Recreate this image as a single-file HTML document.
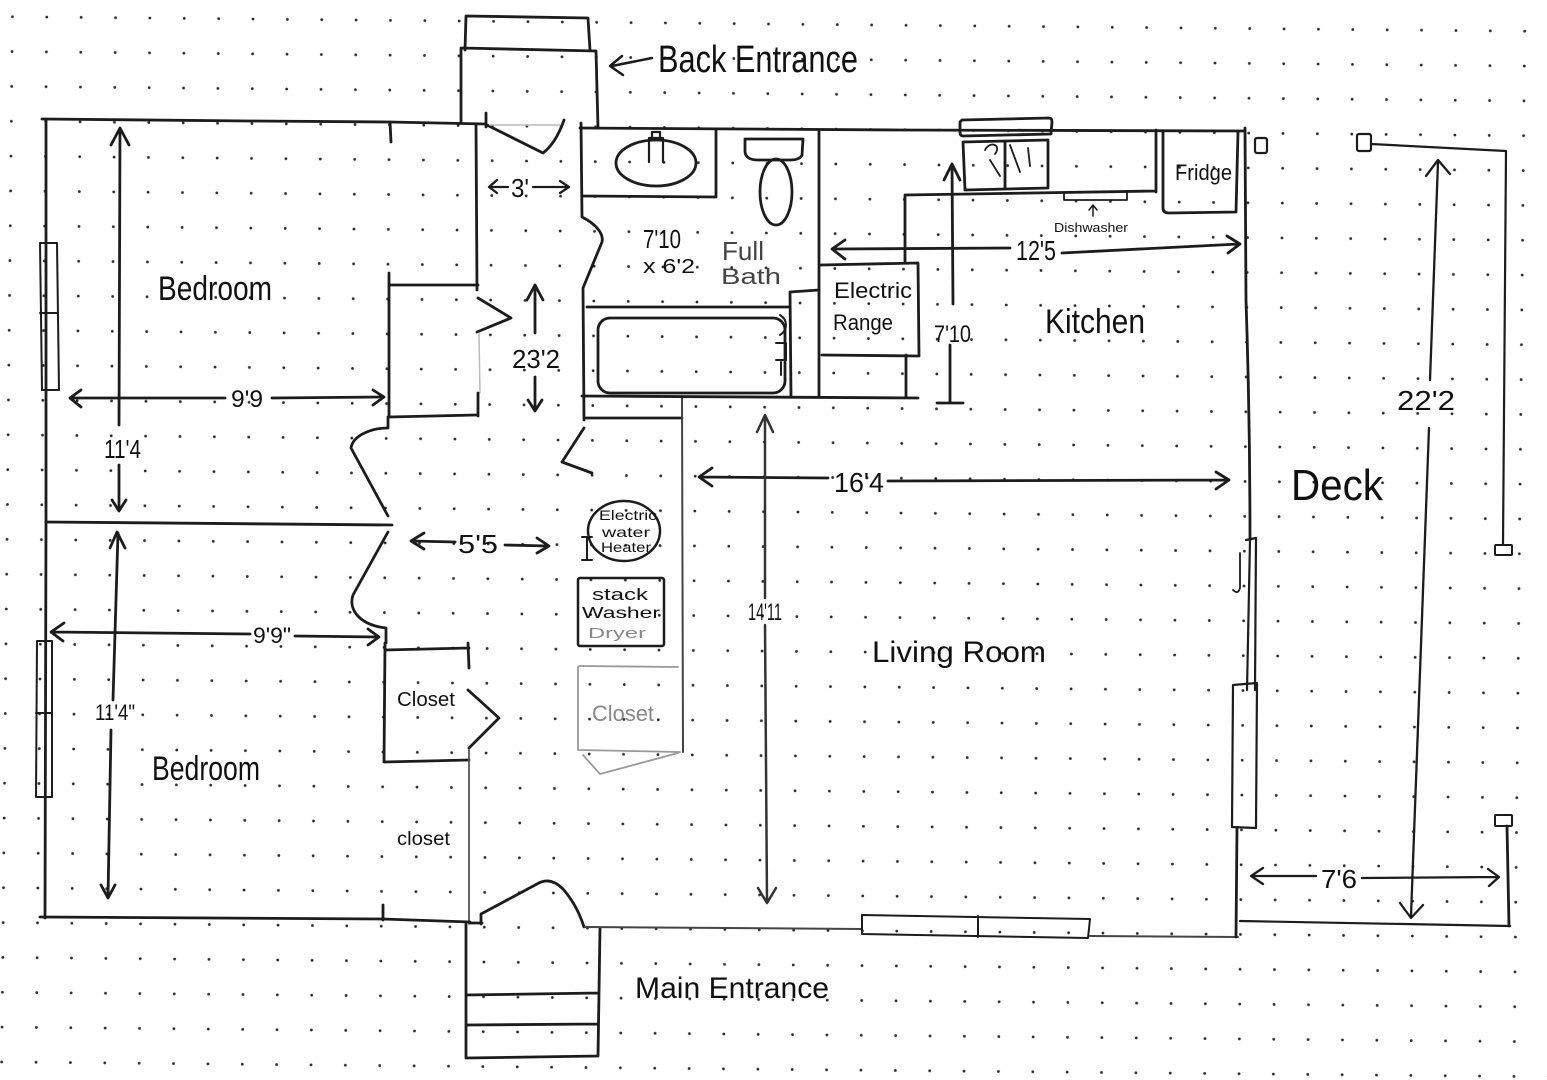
<!DOCTYPE html>
<html><head><meta charset="utf-8"><style>
html,body{margin:0;padding:0;background:#fff;width:1547px;height:1080px;overflow:hidden;}
svg{display:block;overflow:hidden;}
text{font-family:"Liberation Sans",sans-serif;fill:#111;}
</style></head><body>
<svg width="1547" height="1080" viewBox="0 0 1547 1080" xmlns="http://www.w3.org/2000/svg">
<defs>
<pattern id="dots" patternUnits="userSpaceOnUse" x="-17.185" y="-17.42" width="34.37" height="34.84" patternTransform="matrix(1 0.00957 -0.01025 1 12.4 16.7)">
<circle cx="17.185" cy="17.42" r="1.4" fill="#2a2a2a"/>
</pattern>
</defs>
<rect x="0" y="0" width="1547" height="1080" fill="#fff"/>
<rect x="0" y="0" width="1547" height="1080" fill="url(#dots)"/>

<g fill="none" stroke="#1c1c1c" stroke-width="2.8" stroke-linecap="round" stroke-linejoin="round">
<!-- Back entrance steps -->
<path d="M465,50 L466,16 L588,18 L590,50"/>
<path d="M461,123 L461,48 L596,51 L598,128"/>
<path d="M652,58 L612,66 M622,56 L610,66 L623,75" stroke-width="2.5"/>

<!-- top wall -->
<path d="M42,119 L250,121 L390,122 L486,124"/>
<path d="M390,122 L391,142"/>
<path d="M486,113 L486,127 M487,125 L543,153 Q556,143 564,120"/>
<path d="M490,125 L560,125" stroke="#bbb" stroke-width="1.5"/>
<path d="M580,128 L900,130 L1245,131"/>

<!-- left wall -->
<path d="M46,120 L46,520 L45,918"/>

<!-- hallway / upper closet -->
<path d="M476,124 L477,290"/>
<path d="M478,298 L511,318 L477,332"/>
<path d="M479,333 L480,393" stroke="#bbb" stroke-width="1.5"/>
<path d="M478,393 L478,416"/>
<path d="M389,273 L389,417 L476,415 M390,285 L478,285"/>

<!-- upper bedroom door -->
<path d="M388,417 L388,428 C372,428 353,435 351,448 L388,516"/>
<!-- wall between bedrooms -->
<path d="M46,522 L392,525"/>
<!-- lower bedroom door -->
<path d="M388,532 L353,595 C348,610 360,625 386,628 L386,643"/>

<!-- lower closet -->
<path d="M385,643 L384,762 L469,760 M385,650 L469,648 M468,643 L469,668 M468,690 L499,718 L469,748"/>
<path d="M469,750 L469,924" stroke="#555" stroke-width="1.8"/>

<!-- bottom left wall -->
<path d="M40,917 L383,919 L470,922"/>
<path d="M383,905 L383,920"/>

<!-- main entrance -->
<path d="M470,923 L482,923 M481,924 L481,914 L537,884 Q550,876 563,889 Q577,905 584,927"/>
<path d="M466,924 L466,1058 L598,1056 L600,928 M466,995 L598,993 M467,1025 L598,1024"/>

<!-- living bottom wall + window -->
<path d="M585,927 L862,929 M1090,936 L1238,937" stroke="#444" stroke-width="2"/>
<path d="M862,915 L1090,919 L1088,938 L862,934 Z M978,916 L978,937" stroke-width="2"/>

<!-- bathroom -->
<path d="M581,123 L582,217 C596,224 604,234 602,242 L583,288 L584,420"/>
<path d="M584,428 L562,462 L592,473"/>
<path d="M586,418 L682,418"/>
<path d="M682,397 L683,752" stroke="#444" stroke-width="2"/>
<path d="M582,196 L716,197 M716,130 L716,197"/>
<ellipse cx="656" cy="163" rx="40" ry="23"/>
<path d="M649,162 L649,138 L663,138 L663,162 M652,138 L652,132 L660,132 L660,138" stroke-width="2.2"/>
<path d="M745,139 L803,139 L802,155 Q800,160 790,160 L758,160 Q746,160 745,152 Z"/>
<ellipse cx="776" cy="192" rx="16" ry="33"/>
<path d="M819,130 L819,397"/>
<path d="M587,307 L790,307"/>
<rect x="598" y="318" width="187" height="75" rx="12"/>
<path d="M780,315 C788,320 788,330 780,335 M776,343 L786,343 L786,360 L776,360 M781,362 L781,375" stroke-width="2"/>
<path d="M790,292 L819,290 M790,292 L791,397"/>
<path d="M582,396 L918,398"/>

<!-- kitchen -->
<path d="M962,120 L1049,118 Q1052,118 1052,122 L1051,134 L963,136 Q960,136 960,132 L960,122 Z"/>
<path d="M963,142 L1048,140 L1048,188 L965,190 Z M1005,142 L1005,189"/>
<path d="M985,150 C990,140 1002,145 995,154 M1010,145 L1020,172 M1028,148 L1030,166 M990,160 L1000,176" stroke-width="1.8"/>
<path d="M905,195 L1156,191 M1156,130 L1156,192 M905,195 L905,263 M906,355 L906,397"/>
<path d="M1064,193 L1064,200 L1127,200 L1127,192" stroke-width="1.8"/>
<path d="M1093,216 L1093,206 M1089,210 L1093,205 L1097,210" stroke-width="1.5"/>
<path d="M1163,132 L1163,208 Q1163,213 1169,213 L1236,212 L1238,132"/>
<path d="M833,249 L1010,248 M845,240 L832,249 L845,259 M1062,253 L1239,244 M1227,236 L1240,244 L1228,253"/>
<path d="M821,265 L918,263 L919,356 L822,355"/>
<path d="M953,304 L952,164 M944,180 L952,164 L960,180 M950,345 L950,403 M937,403 L963,403"/>

<!-- right wall -->
<path d="M1245,128 L1246,300 Q1250,420 1250,540"/>
<path d="M1246,540 L1256,538 L1255,690 M1250,540 L1247,690" stroke-width="2.2"/>
<path d="M1233,685 L1257,683 L1256,828 L1232,827 Z" stroke-width="2.2"/>
<path d="M1237,828 L1236,937"/>
<path d="M1240,553 L1240,588 Q1238,595 1233,590" stroke-width="1.8"/>

<!-- deck -->
<rect x="1255" y="138" width="12" height="15" rx="2" stroke-width="2.2"/>
<rect x="1357" y="134" width="14" height="17" rx="2" stroke-width="2.2"/>
<path d="M1371,144 L1506,151 L1503,545" stroke-width="2.2"/>
<rect x="1495" y="545" width="17" height="10" rx="1" stroke-width="2"/>
<rect x="1495" y="815" width="17" height="11" rx="1" stroke-width="2"/>
<path d="M1507,826 L1509,926"/>
<path d="M1240,921 L1510,926" stroke-width="2.2"/>
<path d="M1438,162 L1430,380 M1426,176 L1438,160 L1450,174 M1429,428 L1411,916 M1400,903 L1411,918 L1423,905" stroke-width="2.3"/>
<path d="M1252,876 L1316,876 M1263,868 L1251,876 L1263,884 M1362,878 L1497,877 M1488,869 L1499,877 L1489,886" stroke-width="2.3"/>

<!-- living dims -->
<path d="M700,477 L828,478 M712,468 L699,477 L712,486 M888,481 L1228,480 M1216,472 L1229,480 L1216,489"/>
<path d="M765,416 L765,598 M757,432 L765,415 L773,432 M765,625 L767,902 M758,888 L767,903 L776,888" stroke="#333" stroke-width="2.5"/>

<!-- utility -->
<ellipse cx="624" cy="531" rx="36" ry="30" stroke-width="2.5"/>
<path d="M587,537 L587,560 M582,537 L592,537 M582,560 L592,560" stroke-width="2"/>
<rect x="578" y="578" width="86" height="68" rx="2" stroke-width="2.5"/>
<path d="M578,667 L578,750 L680,752 M579,666 L678,667 M583,755 L600,774 L678,753" stroke="#999" stroke-width="1.8"/>

<!-- hall dims -->
<path d="M412,541 L455,542 M424,533 L411,541 L424,549 M505,545 L548,546 M537,538 L549,546 L537,553"/>
<path d="M490,187 L508,187 M497,180 L489,187 L497,193 M533,187 L568,187 M560,181 L569,187 L560,193" stroke-width="2.3"/>
<path d="M535,333 L535,287 M527,300 L535,285 L543,300 M535,377 L535,410 M528,400 L535,411 L542,400"/>

<!-- bedroom dims -->
<path d="M70,398 L225,398 M81,390 L70,398 L81,407 M272,398 L383,397 M373,390 L384,397 L373,405"/>
<path d="M120,128 L119,425 M111,145 L120,128 L129,145 M119,465 L119,510 M112,500 L119,511 L126,500"/>
<path d="M118,533 L113,700 M110,548 L117,532 L125,548 M111,730 L108,897 M101,885 L108,898 L115,885"/>
<path d="M52,632 L250,634 M64,623 L51,632 L63,641 M295,636 L378,637 M368,629 L379,637 L368,645"/>

<!-- left windows -->
<path d="M40,243 L57,243 L59,390 L42,390 Z M40,313 L58,313" stroke-width="2"/>
<path d="M37,641 L52,641 L52,797 L36,797 Z M36,713 L52,713" stroke-width="2"/>
</g>

<!-- labels -->
<text x="658" y="72" font-size="38" textLength="200" lengthAdjust="spacingAndGlyphs">Back Entrance</text>
<text x="158" y="300" font-size="34" textLength="114" lengthAdjust="spacingAndGlyphs">Bedroom</text>
<text x="152" y="780" font-size="34" textLength="108" lengthAdjust="spacingAndGlyphs">Bedroom</text>
<text x="231" y="407" font-size="24" textLength="32" lengthAdjust="spacingAndGlyphs">9'9</text>
<text x="104" y="458" font-size="26" textLength="37" lengthAdjust="spacingAndGlyphs">11'4</text>
<text x="95" y="720" font-size="22" textLength="40" lengthAdjust="spacingAndGlyphs">11'4"</text>
<text x="253" y="643" font-size="22" textLength="38" lengthAdjust="spacingAndGlyphs">9'9"</text>
<text x="511" y="197" font-size="26" textLength="18" lengthAdjust="spacingAndGlyphs">3'</text>
<text x="512" y="368" font-size="26" textLength="48" lengthAdjust="spacingAndGlyphs">23'2</text>
<text x="458" y="553" font-size="26" textLength="40" lengthAdjust="spacingAndGlyphs">5'5</text>
<text x="397" y="706" font-size="20" textLength="58" lengthAdjust="spacingAndGlyphs">Closet</text>
<text x="397" y="845" font-size="19" textLength="53" lengthAdjust="spacingAndGlyphs">closet</text>
<text x="643" y="248" font-size="26" textLength="38" lengthAdjust="spacingAndGlyphs">7'10</text>
<text x="643" y="273" font-size="20" textLength="52" lengthAdjust="spacingAndGlyphs">x 6'2</text>
<text x="722" y="260" font-size="26" textLength="42" lengthAdjust="spacingAndGlyphs" style="fill:#444">Full</text>
<text x="721" y="284" font-size="22" textLength="60" lengthAdjust="spacingAndGlyphs" style="fill:#444">Bath</text>
<text x="834" y="298" font-size="22" textLength="78" lengthAdjust="spacingAndGlyphs">Electric</text>
<text x="833" y="330" font-size="22" textLength="60" lengthAdjust="spacingAndGlyphs">Range</text>
<text x="1016" y="260" font-size="28" textLength="40" lengthAdjust="spacingAndGlyphs">12'5</text>
<text x="1054" y="232" font-size="13" textLength="74" lengthAdjust="spacingAndGlyphs">Dishwasher</text>
<text x="1175" y="180" font-size="22" textLength="57" lengthAdjust="spacingAndGlyphs">Fridge</text>
<text x="934" y="342" font-size="24" textLength="37" lengthAdjust="spacingAndGlyphs">7'10</text>
<text x="1045" y="333" font-size="34" textLength="100" lengthAdjust="spacingAndGlyphs">Kitchen</text>
<text x="834" y="492" font-size="28" textLength="50" lengthAdjust="spacingAndGlyphs">16'4</text>
<text x="748" y="620" font-size="24" textLength="34" lengthAdjust="spacingAndGlyphs">14'11</text>
<text x="872" y="662" font-size="30" textLength="174" lengthAdjust="spacingAndGlyphs">Living Room</text>
<text x="635" y="998" font-size="30" textLength="194" lengthAdjust="spacingAndGlyphs">Main Entrance</text>
<text x="1291" y="500" font-size="44" textLength="92" lengthAdjust="spacingAndGlyphs">Deck</text>
<text x="1397" y="410" font-size="28" textLength="58" lengthAdjust="spacingAndGlyphs">22'2</text>
<text x="1321" y="888" font-size="26" textLength="36" lengthAdjust="spacingAndGlyphs">7'6</text>
<text x="599" y="520" font-size="14" textLength="58" lengthAdjust="spacingAndGlyphs">Electric</text>
<text x="602" y="537" font-size="14" textLength="48" lengthAdjust="spacingAndGlyphs">water</text>
<text x="601" y="552" font-size="14" textLength="50" lengthAdjust="spacingAndGlyphs">Heater</text>
<text x="592" y="600" font-size="17" textLength="56" lengthAdjust="spacingAndGlyphs">stack</text>
<text x="582" y="618" font-size="16" textLength="78" lengthAdjust="spacingAndGlyphs">Washer</text>
<text x="588" y="638" font-size="15" textLength="58" lengthAdjust="spacingAndGlyphs" style="fill:#888">Dryer</text>
<text x="592" y="721" font-size="22" textLength="62" lengthAdjust="spacingAndGlyphs" style="fill:#888">Closet</text>
</svg>
</body></html>
